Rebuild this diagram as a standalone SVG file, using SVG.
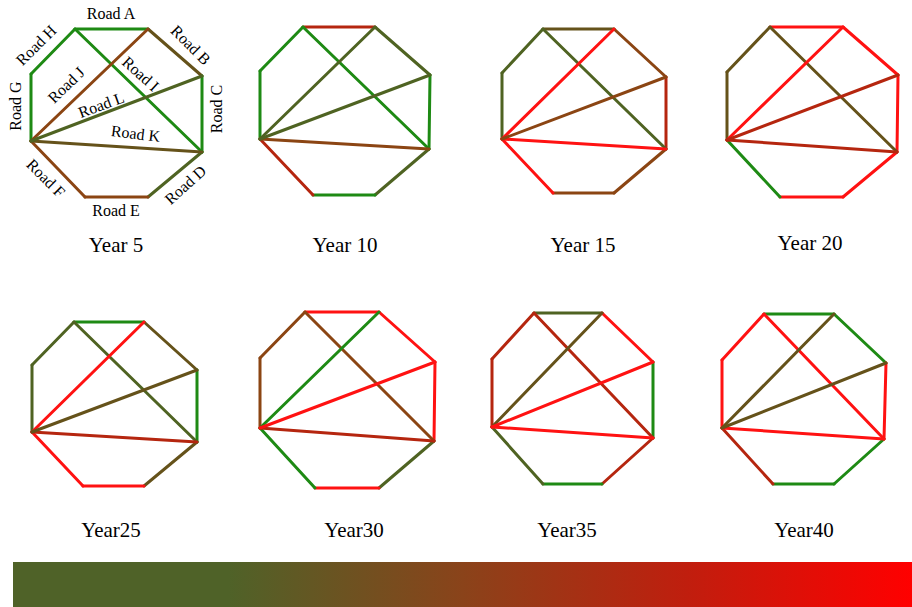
<svg xmlns="http://www.w3.org/2000/svg" width="912" height="607" viewBox="0 0 912 607">
<style>
line{stroke-width:3;stroke-linecap:round}
.g{stroke:#1E8A14}
.o{stroke:#4F6322}
.ob{stroke:#65521A}
.b{stroke:#8B4513}
.rb{stroke:#B5260F}
.r{stroke:#FF1212}
.yr{font-family:"Liberation Serif","Times New Roman",serif;font-size:21px;fill:#000;text-anchor:middle}
.rd{font-family:"Liberation Serif","Times New Roman",serif;font-size:16px;fill:#000;text-anchor:middle}
</style>
<defs>
<linearGradient id="bar" x1="13" y1="0" x2="912" y2="0" gradientUnits="userSpaceOnUse">
<stop offset="0" stop-color="#4F6228"/>
<stop offset="0.24" stop-color="#4F6228"/>
<stop offset="0.5" stop-color="#8A431A"/>
<stop offset="0.75" stop-color="#C01E0E"/>
<stop offset="1" stop-color="#FF0000"/>
</linearGradient>
</defs>
<rect width="912" height="607" fill="#fff"/>

<g id="year5">
<g id="connectors-year5">
<line class="g" x1="75" y1="29" x2="148" y2="29"/>
<line class="ob" x1="148" y1="29" x2="202" y2="76"/>
<line class="g" x1="202" y1="76" x2="202" y2="152"/>
<line class="o" x1="202" y1="152" x2="148" y2="197"/>
<line class="b" x1="148" y1="197" x2="85" y2="197"/>
<line class="b" x1="85" y1="197" x2="31" y2="141"/>
<line class="g" x1="31" y1="141" x2="31" y2="74"/>
<line class="g" x1="31" y1="74" x2="75" y2="29"/>
<line class="g" x1="75" y1="29" x2="202" y2="152"/>
<line class="b" x1="31" y1="141" x2="148" y2="29"/>
<line class="ob" x1="31" y1="141" x2="202" y2="152"/>
<line class="o" x1="31" y1="141" x2="202" y2="76"/>
</g>
<text class="rd" x="111" y="19">Road A</text>
<text class="rd" transform="translate(40,49) rotate(-45)">Road H</text>
<text class="rd" transform="translate(187,49) rotate(45)">Road B</text>
<text class="rd" transform="translate(21,106) rotate(-90)">Road G</text>
<text class="rd" transform="translate(222,109) rotate(-90)">Road C</text>
<text class="rd" transform="translate(70,89) rotate(-44)">Road J</text>
<text class="rd" transform="translate(137,78) rotate(42)">Road I</text>
<text class="rd" transform="translate(103,110) rotate(-20)">Road L</text>
<text class="rd" transform="translate(135,139) rotate(7)">Road K</text>
<text class="rd" transform="translate(42,182) rotate(45)">Road F</text>
<text class="rd" x="116" y="216">Road E</text>
<text class="rd" transform="translate(189,189) rotate(-42)">Road D</text>
<text class="yr" x="116" y="252">Year 5</text>
</g>

<g id="year10">
<g id="connectors-year10">
<line class="rb" x1="303" y1="27" x2="375" y2="27"/>
<line class="o" x1="375" y1="27" x2="430" y2="75"/>
<line class="g" x1="430" y1="75" x2="429" y2="149"/>
<line class="o" x1="429" y1="149" x2="375" y2="195"/>
<line class="g" x1="375" y1="195" x2="313" y2="195"/>
<line class="rb" x1="313" y1="195" x2="260" y2="139"/>
<line class="g" x1="260" y1="139" x2="260" y2="71"/>
<line class="g" x1="260" y1="71" x2="303" y2="27"/>
<line class="g" x1="303" y1="27" x2="429" y2="149"/>
<line class="o" x1="260" y1="139" x2="375" y2="27"/>
<line class="b" x1="260" y1="139" x2="429" y2="149"/>
<line class="o" x1="260" y1="139" x2="430" y2="75"/>
</g>
<text class="yr" x="345" y="252">Year 10</text>
</g>

<g id="year15">
<g id="connectors-year15">
<line class="ob" x1="543" y1="29" x2="614" y2="29"/>
<line class="b" x1="614" y1="29" x2="666" y2="77"/>
<line class="rb" x1="666" y1="77" x2="666" y2="149"/>
<line class="b" x1="666" y1="149" x2="614" y2="193"/>
<line class="b" x1="614" y1="193" x2="553" y2="193"/>
<line class="r" x1="553" y1="193" x2="502" y2="139"/>
<line class="o" x1="502" y1="139" x2="502" y2="73"/>
<line class="o" x1="502" y1="73" x2="543" y2="29"/>
<line class="o" x1="543" y1="29" x2="666" y2="149"/>
<line class="r" x1="502" y1="139" x2="614" y2="29"/>
<line class="r" x1="502" y1="139" x2="666" y2="149"/>
<line class="b" x1="502" y1="139" x2="666" y2="77"/>
</g>
<text class="yr" x="583" y="252">Year 15</text>
</g>

<g id="year20">
<g id="connectors-year20">
<line class="r" x1="770" y1="27" x2="843" y2="27"/>
<line class="r" x1="843" y1="27" x2="898" y2="75"/>
<line class="r" x1="898" y1="75" x2="897" y2="152"/>
<line class="r" x1="897" y1="152" x2="843" y2="197"/>
<line class="r" x1="843" y1="197" x2="780" y2="197"/>
<line class="g" x1="780" y1="197" x2="727" y2="140"/>
<line class="ob" x1="727" y1="140" x2="727" y2="72"/>
<line class="ob" x1="727" y1="72" x2="770" y2="27"/>
<line class="ob" x1="770" y1="27" x2="897" y2="152"/>
<line class="r" x1="727" y1="140" x2="843" y2="27"/>
<line class="rb" x1="727" y1="140" x2="897" y2="152"/>
<line class="rb" x1="727" y1="140" x2="898" y2="75"/>
</g>
<text class="yr" x="810" y="250">Year 20</text>
</g>

<g id="year25">
<g id="connectors-year25">
<line class="g" x1="74" y1="322" x2="144" y2="322"/>
<line class="ob" x1="144" y1="322" x2="197" y2="370"/>
<line class="g" x1="197" y1="370" x2="197" y2="442"/>
<line class="ob" x1="197" y1="442" x2="144" y2="486"/>
<line class="r" x1="144" y1="486" x2="83" y2="486"/>
<line class="r" x1="83" y1="486" x2="32" y2="432"/>
<line class="o" x1="32" y1="432" x2="32" y2="365"/>
<line class="o" x1="32" y1="365" x2="74" y2="322"/>
<line class="o" x1="74" y1="322" x2="197" y2="442"/>
<line class="r" x1="32" y1="432" x2="144" y2="322"/>
<line class="rb" x1="32" y1="432" x2="197" y2="442"/>
<line class="ob" x1="32" y1="432" x2="197" y2="370"/>
</g>
<text class="yr" x="111" y="537">Year25</text>
</g>

<g id="year30">
<g id="connectors-year30">
<line class="r" x1="305" y1="312" x2="379" y2="312"/>
<line class="r" x1="379" y1="312" x2="435" y2="362"/>
<line class="r" x1="435" y1="362" x2="434" y2="441"/>
<line class="o" x1="434" y1="441" x2="379" y2="488"/>
<line class="r" x1="379" y1="488" x2="315" y2="488"/>
<line class="g" x1="315" y1="488" x2="260" y2="428"/>
<line class="b" x1="260" y1="428" x2="260" y2="358"/>
<line class="b" x1="260" y1="358" x2="305" y2="312"/>
<line class="b" x1="305" y1="312" x2="434" y2="441"/>
<line class="g" x1="260" y1="428" x2="379" y2="312"/>
<line class="rb" x1="260" y1="428" x2="434" y2="441"/>
<line class="r" x1="260" y1="428" x2="435" y2="362"/>
</g>
<text class="yr" x="354" y="537">Year30</text>
</g>

<g id="year35">
<g id="connectors-year35">
<line class="o" x1="534" y1="313" x2="602" y2="313"/>
<line class="r" x1="602" y1="313" x2="653" y2="362"/>
<line class="g" x1="653" y1="362" x2="653" y2="438"/>
<line class="rb" x1="653" y1="438" x2="602" y2="484"/>
<line class="g" x1="602" y1="484" x2="543" y2="484"/>
<line class="o" x1="543" y1="484" x2="492" y2="427"/>
<line class="rb" x1="492" y1="427" x2="492" y2="359"/>
<line class="rb" x1="492" y1="359" x2="534" y2="313"/>
<line class="rb" x1="534" y1="313" x2="653" y2="438"/>
<line class="ob" x1="492" y1="427" x2="602" y2="313"/>
<line class="r" x1="492" y1="427" x2="653" y2="438"/>
<line class="r" x1="492" y1="427" x2="653" y2="362"/>
</g>
<text class="yr" x="567" y="537">Year35</text>
</g>

<g id="year40">
<g id="connectors-year40">
<line class="g" x1="764" y1="314" x2="834" y2="314"/>
<line class="g" x1="834" y1="314" x2="886" y2="363"/>
<line class="r" x1="886" y1="363" x2="884" y2="439"/>
<line class="g" x1="884" y1="439" x2="834" y2="484"/>
<line class="g" x1="834" y1="484" x2="773" y2="484"/>
<line class="rb" x1="773" y1="484" x2="722" y2="428"/>
<line class="r" x1="722" y1="428" x2="722" y2="360"/>
<line class="r" x1="722" y1="360" x2="764" y2="314"/>
<line class="r" x1="764" y1="314" x2="884" y2="439"/>
<line class="ob" x1="722" y1="428" x2="834" y2="314"/>
<line class="r" x1="722" y1="428" x2="884" y2="439"/>
<line class="ob" x1="722" y1="428" x2="886" y2="363"/>
</g>
<text class="yr" x="804" y="537">Year40</text>
</g>

<g id="legend">
<rect x="13" y="562" width="899" height="45" fill="url(#bar)"/>
</g>
</svg>
